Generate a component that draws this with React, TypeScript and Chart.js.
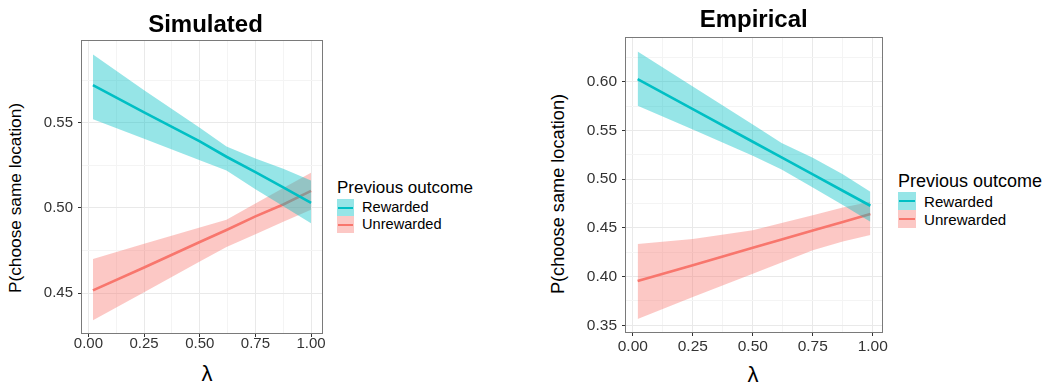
import React, { useEffect, useRef } from "react";
import { Chart, registerables } from "chart.js";

Chart.register(...registerables);

// ---------- data ----------
const lambdaSim = [0.02, 0.25, 0.5, 0.62, 0.75, 0.875, 1.0];
const simRewardedFit = [0.572, 0.556, 0.539, 0.53, 0.521, 0.512, 0.503];
const simRewardedUpper = [0.59, 0.569, 0.547, 0.536, 0.529, 0.523, 0.516];
const simRewardedLower = [0.552, 0.5405, 0.528, 0.522, 0.511, 0.501, 0.491];
const simUnrewardedFit = [0.4516, 0.465, 0.48, 0.487, 0.495, 0.502, 0.51];
const simUnrewardedUpper = [0.47, 0.479, 0.4885, 0.493, 0.5025, 0.5116, 0.5207];
const simUnrewardedLower = [0.434, 0.4505, 0.4685, 0.477, 0.4845, 0.4918, 0.499];

const lambdaEmp = [0.02, 0.25, 0.5, 0.62, 0.75, 0.875, 0.99];
const empRewardedFit = [0.6027, 0.5719, 0.5384, 0.5223, 0.5049, 0.4881, 0.4727];
const empRewardedUpper = [0.631, 0.595, 0.556, 0.537, 0.522, 0.505, 0.4871];
const empRewardedLower = [0.5754, 0.551, 0.524, 0.51, 0.4915, 0.4735, 0.4563];
const empUnrewardedFit = [0.3954, 0.4117, 0.4295, 0.438, 0.4472, 0.456, 0.4642];
const empUnrewardedUpper = [0.4334, 0.4385, 0.4475, 0.455, 0.463, 0.471, 0.4768];
const empUnrewardedLower = [0.3564, 0.379, 0.403, 0.4145, 0.427, 0.436, 0.4426];

// tick values (major + minor grid)
const xTickValues = [0, 0.125, 0.25, 0.375, 0.5, 0.625, 0.75, 0.875, 1.0];
const simYTickValues = [0.45, 0.475, 0.5, 0.525, 0.55, 0.575];
const empYTickValues = [0.35, 0.375, 0.4, 0.425, 0.45, 0.475, 0.5, 0.525, 0.55, 0.575, 0.6, 0.625];

const groupLabels = ["Rewarded", "Unrewarded"];
const legendTitle = "Previous outcome";
const yTitle = "P(choose same location)";
const xTitle = "λ";

// ---------- styles ----------
const TEAL = "#00BFC4";
const RED = "#F8766D";
const TEAL_FILL = "rgba(0,191,196,0.41)";
const RED_FILL = "rgba(248,118,109,0.40)";
const FONT = "'Liberation Sans', Arial, Helvetica, sans-serif";

const isMajorX = (v: number) => Math.abs(v * 4 - Math.round(v * 4)) < 1e-6;
const isMajorY = (v: number) => Math.abs(v * 20 - Math.round(v * 20)) < 1e-6;

const framePlugin = {
  id: "frame",
  afterDatasetsDraw(chart: any) {
    const { ctx, chartArea: a } = chart;
    ctx.save();
    ctx.strokeStyle = "#7a7a7a";
    ctx.lineWidth = 1;
    const l = Math.round(a.left) - 0.5;
    const t = Math.round(a.top) - 0.5;
    const r = Math.round(a.right) + 0.5;
    const b = Math.round(a.bottom) + 0.5;
    ctx.strokeRect(l, t, r - l, b - t);
    ctx.restore();
  },
};

const pts = (xs: number[], ys: number[]) => xs.map((x, i) => ({ x, y: ys[i] }));

interface PanelSpec {
  x: number[];
  rewFit: number[];
  rewUp: number[];
  rewLo: number[];
  unrFit: number[];
  unrUp: number[];
  unrLo: number[];
  xMin: number;
  xMax: number;
  yMin: number;
  yMax: number;
  yTicks: number[];
  yAxisWidth: number;
  xAxisHeight: number;
  padTop: number;
  padRight: number;
  tickFont: number;
  xTickPad: number;
}

function makeConfig(p: PanelSpec): any {
  const band = (data: number[], fill: any, color: string) => ({
    data: pts(p.x, data),
    borderWidth: 0,
    borderColor: "rgba(0,0,0,0)",
    backgroundColor: color,
    pointRadius: 0,
    fill,
    tension: 0,
  });
  const line = (label: string, data: number[], color: string) => ({
    label,
    data: pts(p.x, data),
    borderWidth: 2.6,
    borderColor: color,
    pointRadius: 0,
    fill: false,
    tension: 0,
  });
  return {
    type: "line",
    data: {
      datasets: [
        line(groupLabels[0], p.rewFit, TEAL),
        band(p.rewUp, "+1", TEAL_FILL),
        band(p.rewLo, false, TEAL_FILL),
        line(groupLabels[1], p.unrFit, RED),
        band(p.unrUp, "+1", RED_FILL),
        band(p.unrLo, false, RED_FILL),
      ],
    },
    options: {
      animation: false,
      responsive: false,
      events: [],
      layout: { padding: { top: p.padTop, right: p.padRight, left: 0, bottom: 0 } },
      plugins: { legend: { display: false }, tooltip: { enabled: false } },
      scales: {
        x: {
          type: "linear",
          min: p.xMin,
          max: p.xMax,
          afterBuildTicks: (s: any) => {
            s.ticks = xTickValues.map((v) => ({ value: v }));
          },
          afterFit: (s: any) => {
            s.height = p.xAxisHeight;
            s.paddingLeft = 0;
            s.paddingRight = 0;
          },
          ticks: {
            autoSkip: false,
            maxRotation: 0,
            minRotation: 0,
            padding: p.xTickPad,
            color: "#333333",
            font: { family: FONT, size: p.tickFont },
            callback: (v: any) => (isMajorX(Number(v)) ? Number(v).toFixed(2) : ""),
          },
          grid: {
            drawOnChartArea: true,
            drawTicks: true,
            tickLength: 4,
            color: (c: any) => (c.tick && isMajorX(c.tick.value) ? "#e9e9e9" : "#f4f4f4"),
            tickColor: (c: any) => (c.tick && isMajorX(c.tick.value) ? "#333333" : "rgba(0,0,0,0)"),
          },
          border: { display: false },
        },
        y: {
          type: "linear",
          min: p.yMin,
          max: p.yMax,
          afterBuildTicks: (s: any) => {
            s.ticks = p.yTicks.map((v) => ({ value: v }));
          },
          afterFit: (s: any) => {
            s.width = p.yAxisWidth;
            s.paddingTop = 0;
            s.paddingBottom = 0;
          },
          ticks: {
            autoSkip: false,
            padding: 5,
            color: "#333333",
            font: { family: FONT, size: p.tickFont },
            callback: (v: any) => (isMajorY(Number(v)) ? Number(v).toFixed(2) : ""),
          },
          grid: {
            drawOnChartArea: true,
            drawTicks: true,
            tickLength: 4,
            color: (c: any) => (c.tick && isMajorY(c.tick.value) ? "#e9e9e9" : "#f4f4f4"),
            tickColor: (c: any) => (c.tick && isMajorY(c.tick.value) ? "#333333" : "rgba(0,0,0,0)"),
          },
          border: { display: false },
        },
      },
    },
    plugins: [framePlugin],
  };
}

function ChartCanvas(props: { spec: PanelSpec; left: number; top: number; width: number; height: number }) {
  const ref = useRef<HTMLCanvasElement | null>(null);
  useEffect(() => {
    if (!ref.current) return;
    const chart = new Chart(ref.current, makeConfig(props.spec));
    return () => chart.destroy();
  }, []);
  return (
    <canvas
      ref={ref}
      width={props.width}
      height={props.height}
      style={{ position: "absolute", left: props.left, top: props.top, width: props.width, height: props.height }}
    />
  );
}

function Text(props: {
  x: number;
  baseline: number;
  size: number;
  bold?: boolean;
  center?: boolean;
  children: React.ReactNode;
}) {
  const top = props.baseline - 0.8465 * props.size;
  return (
    <div
      style={{
        position: "absolute",
        left: props.x,
        top,
        fontFamily: FONT,
        fontSize: props.size,
        fontWeight: props.bold ? "bold" : "normal",
        lineHeight: `${props.size}px`,
        whiteSpace: "nowrap",
        color: "#000",
        transform: props.center ? "translateX(-50%)" : undefined,
      }}
    >
      {props.children}
    </div>
  );
}

function VText(props: { cx: number; cy: number; size: number; children: React.ReactNode }) {
  return (
    <div
      style={{
        position: "absolute",
        left: props.cx,
        top: props.cy,
        fontFamily: FONT,
        fontSize: props.size,
        lineHeight: `${props.size}px`,
        whiteSpace: "nowrap",
        color: "#000",
        transform: "translate(-50%, -50%) rotate(-90deg)",
      }}
    >
      {props.children}
    </div>
  );
}

function Legend(props: {
  x: number;
  titleBaseline: number;
  titleSize: number;
  keyTop: number;
  keySize: number;
  labelX: number;
  labelSize: number;
  labelOffset: number;
}) {
  const rows = [
    { fill: TEAL_FILL, line: TEAL, label: groupLabels[0] },
    { fill: RED_FILL, line: RED, label: groupLabels[1] },
  ];
  return (
    <>
      <Text x={props.x} baseline={props.titleBaseline} size={props.titleSize}>
        {legendTitle}
      </Text>
      {rows.map((r, i) => {
        const top = props.keyTop + i * props.keySize;
        return (
          <React.Fragment key={r.label}>
            <div
              style={{
                position: "absolute",
                left: props.x,
                top,
                width: props.keySize,
                height: props.keySize,
                background: r.fill,
              }}
            >
              <div
                style={{
                  position: "absolute",
                  left: 1,
                  right: 1,
                  top: props.keySize / 2 - 1,
                  height: 2,
                  background: r.line,
                }}
              />
            </div>
            <Text x={props.labelX} baseline={top + props.labelOffset} size={props.labelSize}>
              {r.label}
            </Text>
          </React.Fragment>
        );
      })}
    </>
  );
}

const simSpec: PanelSpec = {
  x: lambdaSim,
  rewFit: simRewardedFit,
  rewUp: simRewardedUpper,
  rewLo: simRewardedLower,
  unrFit: simUnrewardedFit,
  unrUp: simUnrewardedUpper,
  unrLo: simUnrewardedLower,
  xMin: -0.029,
  xMax: 1.049,
  yMin: 0.4266,
  yMax: 0.5979,
  yTicks: simYTickValues,
  yAxisWidth: 42,
  xAxisHeight: 27,
  padTop: 11,
  padRight: 10,
  tickFont: 15,
  xTickPad: -2,
};

const empSpec: PanelSpec = {
  x: lambdaEmp,
  rewFit: empRewardedFit,
  rewUp: empRewardedUpper,
  rewLo: empRewardedLower,
  unrFit: empUnrewardedFit,
  unrUp: empUnrewardedUpper,
  unrLo: empUnrewardedLower,
  xMin: -0.0285,
  xMax: 1.0385,
  yMin: 0.3431,
  yMax: 0.6449,
  yTicks: empYTickValues,
  yAxisWidth: 46,
  xAxisHeight: 30,
  padTop: 13,
  padRight: 10,
  tickFont: 15.5,
  xTickPad: 1,
};

export default function App() {
  return (
    <div
      style={{
        position: "absolute",
        left: 0,
        top: 0,
        width: 1047,
        height: 385,
        background: "#fff",
        overflow: "hidden",
      }}
    >
      {/* Simulated panel: canvas 40..332 x 30..360, plot 82..322 x 41..333 */}
      <ChartCanvas spec={simSpec} left={40} top={30} width={292} height={330} />
      <Text x={205.5} baseline={32.3} size={24} bold center>
        Simulated
      </Text>
      <VText cx={15.5} cy={198} size={17.3}>
        {yTitle}
      </VText>
      <Text x={207} baseline={382} size={22} center>
        {xTitle}
      </Text>
      <Legend x={337} titleBaseline={193} titleSize={17} keyTop={199} keySize={17} labelX={362} labelSize={14.6} labelOffset={13.3} />

      {/* Empirical panel: canvas 580..892 x 25..362, plot 626..882 x 38..332 */}
      <ChartCanvas spec={empSpec} left={580} top={25} width={312} height={337} />
      <Text x={753.7} baseline={27} size={24} bold center>
        Empirical
      </Text>
      <VText cx={558} cy={194} size={18.2}>
        {yTitle}
      </VText>
      <Text x={753} baseline={383} size={22} center>
        {xTitle}
      </Text>
      <Legend x={898} titleBaseline={187} titleSize={18} keyTop={192} keySize={18} labelX={924} labelSize={15.1} labelOffset={14.7} />
    </div>
  );
}
